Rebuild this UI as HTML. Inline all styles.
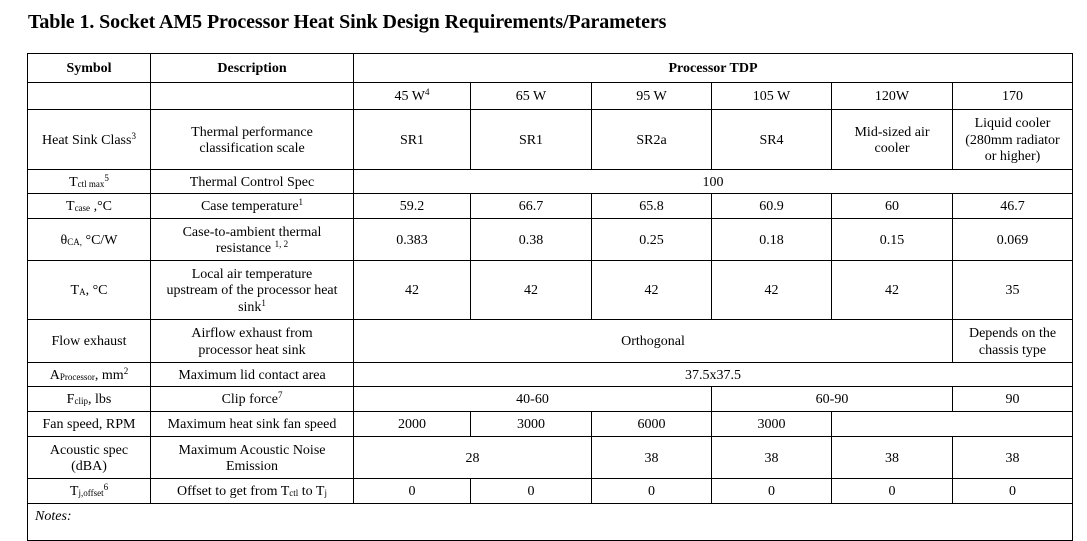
<!DOCTYPE html>
<html><head><meta charset="utf-8"><style>
body{margin:0;width:1087px;height:521px;background:#fff;overflow:hidden;position:relative;font-family:"Liberation Serif",serif;color:#000}
.t{position:absolute;left:28px;top:11px;font-weight:bold;font-size:20px;white-space:nowrap;letter-spacing:-0.1px}
.c{position:absolute;box-sizing:border-box;border:1px solid #000;padding-top:3px;display:flex;align-items:center;justify-content:center;text-align:center;font-size:14px;line-height:16.5px}
.c span{display:block}
.b{font-weight:bold}
sup{font-size:9px;vertical-align:5px;line-height:0}
sub{font-size:9px;vertical-align:-1px;line-height:0}
.n{position:absolute;left:35px;top:509px;font-style:italic;font-size:14px}
</style></head><body>
<div class="t">Table 1. Socket AM5 Processor Heat Sink Design Requirements/Parameters</div>
<div id="g"></div>
<div class="n">Notes:</div>
<script>
var X=[27,150,353,470,591,711,831,952,1072];
var Y=[53,82,109,169,193,218,260,319,362,386,411,436,478,503,540];
var cells=[
[0,0,1,1,'Symbol','b'],[0,1,2,1,'Description','b'],[0,2,8,1,'Processor TDP','b'],
[1,0,1,1,''],[1,1,2,1,''],[1,2,3,1,'45 W<sup>4</sup>'],[1,3,4,1,'65 W'],[1,4,5,1,'95 W'],[1,5,6,1,'105 W'],[1,6,7,1,'120W'],[1,7,8,1,'170'],
[2,0,1,1,'Heat Sink Class<sup>3</sup>'],[2,1,2,1,'Thermal performance<br>classification scale'],[2,2,3,1,'SR1'],[2,3,4,1,'SR1'],[2,4,5,1,'SR2a'],[2,5,6,1,'SR4'],[2,6,7,1,'Mid-sized air<br>cooler'],[2,7,8,1,'Liquid cooler<br>(280mm radiator<br>or higher)'],
[3,0,1,1,'T<sub>ctl max</sub><sup>5</sup>'],[3,1,2,1,'Thermal Control Spec'],[3,2,8,1,'100'],
[4,0,1,1,'T<sub>case</sub> ,°C'],[4,1,2,1,'Case temperature<sup>1</sup>'],[4,2,3,1,'59.2'],[4,3,4,1,'66.7'],[4,4,5,1,'65.8'],[4,5,6,1,'60.9'],[4,6,7,1,'60'],[4,7,8,1,'46.7'],
[5,0,1,1,'θ<sub>CA,</sub> °C/W'],[5,1,2,1,'Case-to-ambient thermal<br>resistance <sup>1, 2</sup>'],[5,2,3,1,'0.383'],[5,3,4,1,'0.38'],[5,4,5,1,'0.25'],[5,5,6,1,'0.18'],[5,6,7,1,'0.15'],[5,7,8,1,'0.069'],
[6,0,1,1,'T<sub>A</sub>, °C'],[6,1,2,1,'Local air temperature<br>upstream of the processor heat<br>sink<sup>1</sup>'],[6,2,3,1,'42'],[6,3,4,1,'42'],[6,4,5,1,'42'],[6,5,6,1,'42'],[6,6,7,1,'42'],[6,7,8,1,'35'],
[7,0,1,1,'Flow exhaust'],[7,1,2,1,'Airflow exhaust from<br>processor heat sink'],[7,2,7,1,'Orthogonal'],[7,7,8,1,'Depends on the<br>chassis type'],
[8,0,1,1,'A<sub>Processor</sub>, mm<sup>2</sup>'],[8,1,2,1,'Maximum lid contact area'],[8,2,8,1,'37.5x37.5'],
[9,0,1,1,'F<sub>clip</sub>, lbs'],[9,1,2,1,'Clip force<sup>7</sup>'],[9,2,5,1,'40-60'],[9,5,7,1,'60-90'],[9,7,8,1,'90'],
[10,0,1,1,'Fan speed, RPM'],[10,1,2,1,'Maximum heat sink fan speed'],[10,2,3,1,'2000'],[10,3,4,1,'3000'],[10,4,5,1,'6000'],[10,5,6,1,'3000'],[10,6,8,1,''],
[11,0,1,1,'Acoustic spec<br>(dBA)'],[11,1,2,1,'Maximum Acoustic Noise<br>Emission'],[11,2,4,1,'28'],[11,4,5,1,'38'],[11,5,6,1,'38'],[11,6,7,1,'38'],[11,7,8,1,'38'],
[12,0,1,1,'T<sub>j,offset</sub><sup>6</sup>'],[12,1,2,1,'Offset to get from T<sub>ctl</sub> to T<sub>j</sub>'],[12,2,3,1,'0'],[12,3,4,1,'0'],[12,4,5,1,'0'],[12,5,6,1,'0'],[12,6,7,1,'0'],[12,7,8,1,'0'],
[13,0,8,1,'']
];
var h='';
cells.forEach(function(c){var r=c[0],a=c[1],b=c[2];
h+='<div class="c '+(c[5]||'')+'" style="left:'+X[a]+'px;top:'+Y[r]+'px;width:'+(X[b]-X[a]+1)+'px;height:'+(Y[r+1]-Y[r]+1)+'px"><span>'+c[4]+'</span></div>';});
document.getElementById('g').innerHTML=h;
</script>
</body></html>
